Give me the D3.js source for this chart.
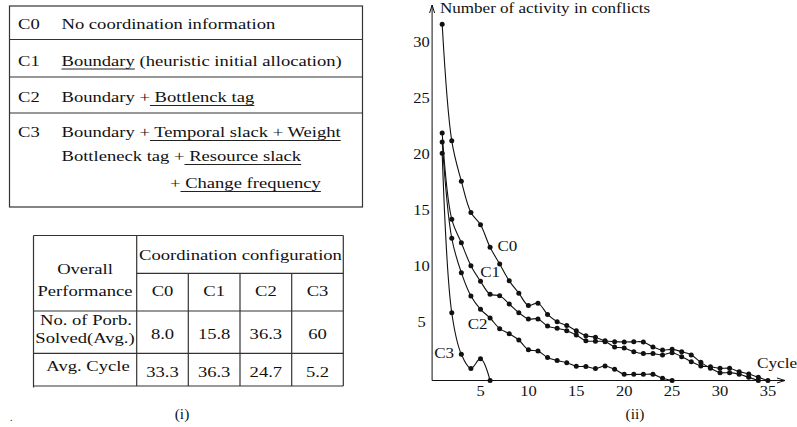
<!DOCTYPE html>
<html>
<head>
<meta charset="utf-8">
<title>Coordination configuration</title>
<script src="https://d3js.org/d3.v7.min.js"></script>
<style>
  body { margin: 0; background: white; }
  svg { display: block; background: white; }
</style>
</head>
<body>
<div id="chart"></div>
<script>
// ---- data ----
var configs = ["C0", "C1", "C2", "C3"];
var configText = [
  [["No coordination information", false]],
  [["Boundary", true], [" (heuristic initial allocation)", false]],
  [["Boundary +", false], [" Bottlenck tag", true]],
  [["Boundary +", false], [" Temporal slack + Weight", true]]
];
var configText2 = [
  [["Bottleneck tag +", false], [" Resource slack", true]],
  [["+", false], [" Change frequency", true]]
];
var solved = ["8.0", "15.8", "36.3", "60"];
var avgCycle = ["33.3", "36.3", "24.7", "5.2"];

var c0 = [31.8, 21.4, 17.8, 15.0, 13.9, 11.9, 10.4, 8.9, 7.8, 6.7, 6.9, 5.9, 5.25, 4.9, 4.45, 4.0, 3.86, 3.55, 3.47, 3.44, 3.45, 3.44, 3.0, 2.72, 2.78, 2.57, 2.28, 1.62, 1.1, 0.7, 0.7, 0.55, 0.28, 0];
var c1 = [22.1, 14.4, 12.3, 10.25, 8.86, 7.7, 7.57, 6.83, 6.05, 5.5, 5.5, 4.87, 4.66, 4.45, 4.06, 3.55, 3.5, 3.47, 3.0, 2.9, 2.57, 2.4, 2.4, 2.28, 2.48, 2.13, 1.68, 1.3, 1.23, 1.09, 1.09, 0.79, 0.58, 0.28, 0];
var c2 = [21.3, 12.7, 9.63, 7.54, 6.36, 5.58, 4.63, 4.18, 3.62, 2.75, 2.63, 2.05, 1.78, 1.59, 1.27, 1.25, 1.07, 1.3, 1.0, 0.55, 0.55, 0.55, 0.55, 0.2, 0];
var c3 = [20.3, 6.05, 2.34, 1.07, 1.95, 0];
var series = [c0, c1, c2, c3];
var xTicks = [5, 10, 15, 20, 25, 30, 35];
var yTicks = [5, 10, 15, 20, 25, 30];

var FONT = "'Liberation Serif', Tinos, serif";
var FS = 15.5;   // table text
var SX = 1.2;    // the scanned figure is stretched sideways
var W = 797, H = 427;
var svg = d3.select("#chart").append("svg").attr("width", W).attr("height", H);

// text with horizontal stretch
function txt(parent, x, y, s, size, sx, anchor) {
  return parent.append("text")
    .attr("transform", "translate(" + x + "," + y + ") scale(" + sx + ",1)")
    .attr("font-size", size).attr("text-anchor", anchor || "start")
    .style("font-family", FONT).attr("fill", "#111").text(s);
}

// ---- (i) upper table ----
var t1 = svg.append("g");
var t1Lines = [39.5, 77, 113];
t1.append("rect").attr("x", 9.5).attr("y", 6).attr("width", 353).attr("height", 201)
  .attr("fill", "none").attr("stroke", "#333").attr("stroke-width", 1.2);
t1Lines.forEach(function(yy) {
  t1.append("line").attr("x1", 9.5).attr("x2", 362.5).attr("y1", yy).attr("y2", yy)
    .attr("stroke", "#333").attr("stroke-width", 1.2);
});

function partText(g, x, y, parts) {
  var t = txt(g, x, y, null, FS, SX).style("white-space", "pre");
  parts.forEach(function(p) { t.append("tspan").text(p[0]); });
  var node = t.node(), idx = 0;
  parts.forEach(function(p) {
    if (p[1]) {
      var start = idx === 0 ? 0 : node.getSubStringLength(0, idx);
      var len = node.getSubStringLength(idx, p[0].length);
      g.append("line").attr("x1", x + SX * start).attr("x2", x + SX * (start + len))
        .attr("y1", y + 3.5).attr("y2", y + 3.5).attr("stroke", "#222").attr("stroke-width", 1);
    }
    idx += p[0].length;
  });
}
var t1Base = [28.5, 65.5, 102, 137];
configs.forEach(function(c, i) {
  txt(t1, 18, t1Base[i], c, FS, SX);
  partText(t1, 61.5, t1Base[i], configText[i]);
});
partText(t1, 61.5, 161, configText2[0]);
partText(t1, 170, 188, configText2[1]);

// ---- (i) lower table ----
var t2 = svg.append("g");
var colX = [33.5, 136.7, 188.3, 240, 291.7, 343.3];
var rowY = [235.5, 273.3, 311, 353.3, 386];
var st = function(s) { return s.attr("stroke", "#333").attr("stroke-width", 1.2); };
st(t2.append("line").attr("x1", colX[0]).attr("x2", colX[5]).attr("y1", rowY[0]).attr("y2", rowY[0]));
st(t2.append("line").attr("x1", colX[1]).attr("x2", colX[5]).attr("y1", rowY[1]).attr("y2", rowY[1]));
[2, 3, 4].forEach(function(r) {
  st(t2.append("line").attr("x1", colX[0]).attr("x2", colX[5]).attr("y1", rowY[r]).attr("y2", rowY[r]));
});
st(t2.append("line").attr("x1", colX[0]).attr("x2", colX[0]).attr("y1", rowY[0]).attr("y2", rowY[4] + 1.5));
st(t2.append("line").attr("x1", colX[1]).attr("x2", colX[1]).attr("y1", rowY[0]).attr("y2", rowY[4]));
st(t2.append("line").attr("x1", colX[5]).attr("x2", colX[5]).attr("y1", rowY[0]).attr("y2", rowY[4]));
[2, 3, 4].forEach(function(c) {
  st(t2.append("line").attr("x1", colX[c]).attr("x2", colX[c]).attr("y1", rowY[1]).attr("y2", rowY[4]));
});
function cell(x, y, s, anchor) { txt(t2, x, y, s, FS, SX, anchor || "middle"); }
cell(139, 260, "Coordination configuration", "start");
cell(85, 273.5, "Overall");
cell(85, 296, "Performance");
cell(86, 325, "No. of Porb.");
cell(85, 342.5, "Solved(Avg.)");
cell(88, 371, "Avg. Cycle");
configs.forEach(function(c, i) {
  var cx = (colX[i + 1] + colX[i + 2]) / 2;
  cell(cx, 296, c);
  cell(cx, 339, solved[i]);
  cell(cx, 377, avgCycle[i]);
});
txt(svg, 182, 419, "(i)", 14, 1.1, "middle");
txt(svg, 10, 421, ".", 10, 1, "start");

// ---- (ii) line chart ----
var CSX = 1.1;
var x = d3.scaleLinear().domain([0, 35]).range([432.6, 767.9]);
var y = d3.scaleLinear().domain([0, 30]).range([380.5, 44.5]);
var g = svg.append("g");

var xAx = g.append("g").attr("transform", "translate(0," + y(0) + ")")
  .call(d3.axisBottom(x).tickValues(xTicks).tickSize(0).tickPadding(5));
xAx.select(".domain").remove();
xAx.selectAll("text").attr("font-size", 15).attr("fill", "#111")
  .style("font-family", FONT).attr("transform", "scale(" + CSX + ",1)");
xAx.selectAll(".tick").attr("transform", function(d) { return "translate(" + x(d) + ",0)"; });

var yAx = g.append("g").attr("transform", "translate(" + x(0) + ",0)")
  .call(d3.axisLeft(y).tickValues(yTicks).tickSize(0));
yAx.select(".domain").remove();
yAx.selectAll("text").attr("font-size", 15).attr("fill", "#111").style("font-family", FONT)
  .attr("text-anchor", "middle").attr("x", -11 / CSX).attr("dy", "0.12em")
  .attr("transform", "scale(" + CSX + ",1)");

// axis lines with open arrowheads
var ax0 = x(0) - 0.5, ay0 = y(0);
g.append("path").attr("d", "M" + ax0 + "," + ay0 + "V5").attr("stroke", "#111").attr("fill", "none");
g.append("path").attr("d", "M" + (ax0 - 2.5) + ",13L" + ax0 + ",5L" + (ax0 + 2.5) + ",13")
  .attr("stroke", "#111").attr("fill", "none");
g.append("path").attr("d", "M" + ax0 + "," + ay0 + "H785").attr("stroke", "#111").attr("fill", "none");
g.append("path").attr("d", "M777," + (ay0 - 2.5) + "L785," + ay0 + "L777," + (ay0 + 2.5))
  .attr("stroke", "#111").attr("fill", "none");

txt(g, 440, 13, "Number of activity in conflicts", 15.5, CSX);
txt(g, 757, 368, "Cycle", 15, 1.15);
txt(g, 635, 419, "(ii)", 14, 1.1, "middle");

var line = d3.line()
  .x(function(d, i) { return x(i + 1); })
  .y(function(d) { return y(d); })
  .curve(d3.curveCatmullRom.alpha(0.5));

series.forEach(function(s) {
  g.append("path").attr("d", line(s)).attr("fill", "none")
    .attr("stroke", "#111").attr("stroke-width", 1.1);
  g.selectAll(null).data(s).enter().append("circle")
    .attr("cx", function(d, i) { return x(i + 1); })
    .attr("cy", function(d) { return y(d); })
    .attr("r", 2.5).attr("fill", "#111");
});

// curve labels
var labelAt = [[7.8, 11.6], [6, 9.2], [4.7, 4.6], [1.2, 2.0]];
configs.forEach(function(c, i) {
  txt(g, x(labelAt[i][0]), y(labelAt[i][1]), c, FS, CSX, "middle");
});
</script>
</body>
</html>
